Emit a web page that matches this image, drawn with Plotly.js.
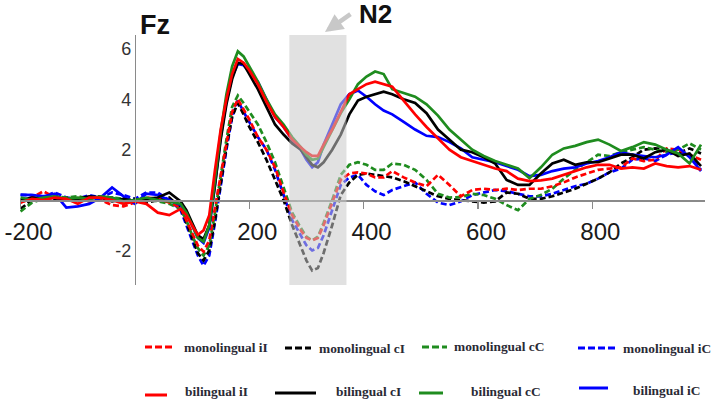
<!DOCTYPE html>
<html>
<head>
<meta charset="utf-8">
<script src="https://cdn.plot.ly/plotly-3.0.1.min.js"></script>
<style>html,body{margin:0;padding:0;background:#fff;}#chart{width:713px;height:401px;}</style>
</head>
<body>
<div id="chart"></div>
<script>
// Time points (ms)
const times = [-200,-180,-160,-140,-120,-100,-80,-60,-40,-20,0,20,40,60,80,90,100,110,120,130,140,150,160,170,180,190,200,215,230,245,260,275,290,300,310,320,330,345,360,375,390,405,420,435,450,470,490,510,530,550,570,590,610,630,650,670,690,710,730,750,770,790,810,830,850,870,890,910,930,950,970,990];

// Amplitudes (µV) at Fz
const monoII = [-0.1,0.1,0.35,0.1,0.0,0.1,-0.05,0.0,-0.2,-0.25,-0.1,0.1,0.05,-0.1,-0.3,-0.8,-1.3,-1.8,-2.05,-1.6,-0.3,1.0,2.3,3.5,4.0,3.6,3.2,2.5,2.0,1.3,0.3,-0.6,-1.2,-1.5,-1.6,-1.5,-1.0,-0.1,0.8,1.05,1.1,1.05,0.9,0.9,1.15,0.9,0.7,0.55,1.0,0.6,0.15,0.4,0.45,0.4,0.45,0.4,0.45,0.45,0.55,0.7,0.9,1.05,1.2,1.25,1.3,1.65,1.55,1.6,2.05,2.0,1.8,1.6];
const monoCI = [-0.35,0.0,0.1,0.05,0.1,0.05,0.1,0.15,0.1,0.0,0.05,-0.1,0.0,0.1,-0.3,-0.9,-1.5,-2.1,-2.4,-2.0,-0.8,0.7,2.1,3.3,3.85,3.4,2.9,2.3,1.6,0.8,0.0,-1.0,-1.8,-2.4,-2.8,-2.7,-2.1,-1.0,0.2,0.7,1.0,1.05,1.0,0.95,0.9,0.75,0.55,0.33,0.15,0.05,0.0,-0.05,-0.1,-0.05,0.3,0.25,0.05,0.05,0.15,0.3,0.45,0.65,0.85,1.1,1.45,1.7,2.0,2.05,2.0,1.85,2.05,1.85];
const monoCC = [-0.45,-0.1,0.05,0.15,0.1,0.15,0.05,0.1,0.1,0.05,0.0,0.05,-0.05,-0.15,-0.35,-0.8,-1.4,-1.9,-2.2,-1.8,-0.5,1.0,2.4,3.7,4.15,3.85,3.5,3.0,2.3,1.5,0.5,-0.5,-1.1,-1.45,-1.6,-1.45,-0.9,0.0,1.0,1.4,1.5,1.4,1.2,1.2,1.45,1.4,1.2,0.8,0.25,0.1,0.12,0.25,0.2,0.05,-0.2,-0.4,0.05,0.2,0.45,0.85,1.2,1.5,1.8,1.75,1.9,2.0,2.1,2.0,1.9,2.0,2.25,2.0];
const monoIC = [0.2,0.2,0.15,0.3,0.1,0.05,0.2,0.1,0.3,0.2,0.05,0.3,0.3,0.0,-0.4,-1.0,-1.6,-2.2,-2.6,-2.2,-0.9,0.6,2.0,3.3,3.95,3.5,3.1,2.5,2.0,1.2,0.2,-0.8,-1.4,-1.8,-2.0,-1.9,-1.4,-0.4,0.6,0.9,1.0,0.6,0.35,0.2,0.4,0.55,0.7,0.25,-0.1,-0.2,-0.05,0.2,0.3,0.4,0.35,0.25,0.15,0.15,0.25,0.4,0.55,0.65,0.85,1.1,1.25,1.6,1.65,1.55,1.8,1.9,1.75,1.2];
const biII = [-0.1,0.05,0.0,0.1,0.05,-0.15,0.1,0.1,0.0,-0.15,-0.05,-0.15,-0.5,-0.6,-0.35,-0.6,-1.0,-1.38,-1.2,-0.6,1.2,2.8,4.0,5.0,5.6,5.45,5.15,4.6,3.9,3.3,2.9,2.4,2.1,1.9,1.75,1.75,2.2,2.8,3.5,4.2,4.4,4.6,4.7,4.6,4.5,3.95,3.4,2.9,2.45,2.0,1.7,1.55,1.4,1.25,1.15,0.85,0.75,0.78,0.85,1.0,1.15,1.3,1.4,1.4,1.25,1.3,1.25,1.45,1.35,1.3,1.35,1.2];
const biCI = [0.0,0.1,0.05,0.1,0.0,0.05,0.15,0.1,-0.05,0.05,-0.05,0.05,0.1,0.3,-0.05,-0.4,-0.9,-1.4,-1.55,-1.0,0.6,2.4,3.8,4.8,5.45,5.4,5.0,4.4,3.7,3.0,2.6,2.25,2.0,1.7,1.4,1.3,1.5,2.0,2.6,3.4,3.95,4.1,4.2,4.3,4.2,4.0,3.85,3.45,2.8,2.4,2.0,1.9,1.7,1.45,0.8,0.6,0.6,1.05,1.45,1.6,1.4,1.5,1.5,1.65,1.8,1.8,1.65,1.9,2.0,1.75,1.85,1.35];
const biCC = [0.1,0.0,0.1,0.15,0.05,0.1,0.05,0.15,0.1,-0.05,0.0,0.1,0.0,-0.05,-0.15,-0.5,-1.0,-1.5,-1.65,-1.0,0.8,2.7,4.2,5.3,5.9,5.7,5.3,4.7,4.0,3.4,3.0,2.5,2.1,1.8,1.6,1.65,2.1,2.8,3.45,4.0,4.6,4.9,5.1,5.0,4.4,4.25,4.1,3.8,3.35,2.8,2.4,2.0,1.75,1.55,1.4,1.25,0.87,1.3,1.8,2.05,2.15,2.3,2.4,2.2,1.95,2.1,2.3,2.2,2.0,1.85,1.45,2.2];
const biIC = [0.22,0.2,0.15,0.25,-0.3,-0.25,-0.15,0.1,0.5,0.15,-0.15,0.25,0.2,0.0,-0.2,-0.5,-1.0,-1.5,-1.7,-1.1,0.6,2.5,3.9,4.9,5.4,5.35,5.1,4.7,4.0,3.3,2.9,2.4,2.0,1.6,1.3,1.5,2.2,3.0,3.8,4.2,4.35,4.1,3.8,3.55,3.4,3.1,2.8,2.55,2.5,2.3,2.05,1.7,1.6,1.5,1.35,1.2,0.95,1.0,1.15,1.25,1.3,1.45,1.55,1.7,1.9,1.8,1.75,1.7,1.8,2.1,1.7,1.15];

const seriesNames = ['monolingual iI','monolingual cI','monolingual cC','monolingual iC','bilingual iI','bilingual cI','bilingual cC','bilingual iC'];
const seriesData = [monoII, monoCI, monoCC, monoIC, biII, biCI, biCC, biIC];

const xTickVals = [-200,200,400,600,800];
const xTickText = ['-200','200','400','600','800'];
const yTickVals = [-2,2,4,6];
const yTickText = ['-2','2','4','6'];
const n2Window = [270, 370];

// styles
const colors = ['#ff0000','#000000','#1f8c1f','#0000ff','#ff0000','#000000','#1f8c1f','#0000ff'];
const dashed = [true,true,true,true,false,false,false,false];

const XR = [-201, 997], YR = [-3.37, 6.55];
const M = {l:20, r:8, t:35, b:116};
const W = 713, H = 401;
const PW = W - M.l - M.r, PH = H - M.t - M.b;
const px2x = p => (p - M.l) / PW;
const py2y = p => (H - M.b - p) / PH;

const drawOrder = [3,1,2,0,7,5,6,4];
const traces = drawOrder.map(i => ({
  type:'scatter', mode:'lines', x: times, y: seriesData[i], name: seriesNames[i],
  line:{color: colors[i], width: 2.7, dash: dashed[i] ? '6px,3px' : 'solid'},
  showlegend:false, hoverinfo:'skip'
}));

// legend layout
const legendPos = [
  {lx0:145, lx1:175, ly:347, tx:183, ty:347},
  {lx0:285, lx1:311, ly:348, tx:318, ty:348},
  {lx0:422, lx1:447, ly:347, tx:453, ty:346},
  {lx0:578, lx1:616, ly:348, tx:622, ty:348},
  {lx0:145, lx1:167, ly:395, tx:184, ty:391},
  {lx0:275, lx1:316, ly:393, tx:335, ty:391},
  {lx0:419, lx1:443, ly:393, tx:470, ty:391},
  {lx0:579, lx1:608, ly:388, tx:632, ty:390}
];

const shapes = [{
  type:'rect', xref:'x', yref:'y domain', x0:n2Window[0], x1:n2Window[1], y0:0, y1:1,
  fillcolor:'rgb(200,200,200)', opacity:0.55, line:{width:0}, layer:'above'
}];
const annotations = [];
legendPos.forEach((p,i) => {
  shapes.push({type:'line', xref:'paper', yref:'paper', x0:px2x(p.lx0), x1:px2x(p.lx1), y0:py2y(p.ly), y1:py2y(p.ly),
    line:{color:colors[i], width:3, dash: dashed[i] ? '7px,3px' : 'solid'}});
  annotations.push({xref:'paper', yref:'paper', x:px2x(p.tx), y:py2y(p.ty), xanchor:'left', yanchor:'middle',
    text:'<b>'+seriesNames[i]+'</b>', showarrow:false, borderpad:0,
    font:{family:'Liberation Serif, serif', size:13.4, color:'#2a2a35'}});
});
annotations.push({xref:'paper', yref:'paper', x:px2x(375), y:py2y(14), xanchor:'center', yanchor:'middle',
  text:'<b>N2</b>', showarrow:false, font:{family:'Liberation Sans, Arial', size:26, color:'#111'}});
annotations.push({xref:'paper', yref:'paper', x:px2x(325), y:py2y(32), text:'', showarrow:true,
  ax:27, ay:-19, arrowhead:2, arrowsize:0.8, arrowwidth:4.5, arrowcolor:'#c8c8c8'});

const layout = {
  width:W, height:H, margin:M, paper_bgcolor:'#fff', plot_bgcolor:'#fff', showlegend:false,
  title:{text:'<b>Fz</b>', x:155/W, y:1-25/H, xref:'container', yref:'container', xanchor:'center', yanchor:'middle',
    font:{family:'Liberation Sans, Arial', size:27, color:'#111'}},
  xaxis:{range:XR, anchor:'free', position:(0-YR[0])/(YR[1]-YR[0]), showline:true, linecolor:'#8a8a8a', linewidth:1.5,
    ticks:'outside', ticklen:7, tickcolor:'#8a8a8a', tickwidth:1.5, tickvals:xTickVals,
    ticktext:xTickText, showgrid:false, zeroline:false, ticklabeloverflow:'allow', ticklabelshift:8,
    tickfont:{family:'Liberation Sans, Arial', size:24, color:'#1a1a1a'}, ticklabelstandoff:3},
  yaxis:{range:YR, anchor:'free', position:(0-XR[0])/(XR[1]-XR[0]), showline:true, linecolor:'#8a8a8a', linewidth:1.5,
    ticks:'', tickvals:yTickVals, ticktext:yTickText, showgrid:false, zeroline:false,
    tickfont:{family:'Liberation Sans, Arial', size:18, color:'#333'}},
  shapes:shapes, annotations:annotations
};
Plotly.newPlot('chart', traces, layout, {staticPlot:true});
</script>
</body>
</html>
